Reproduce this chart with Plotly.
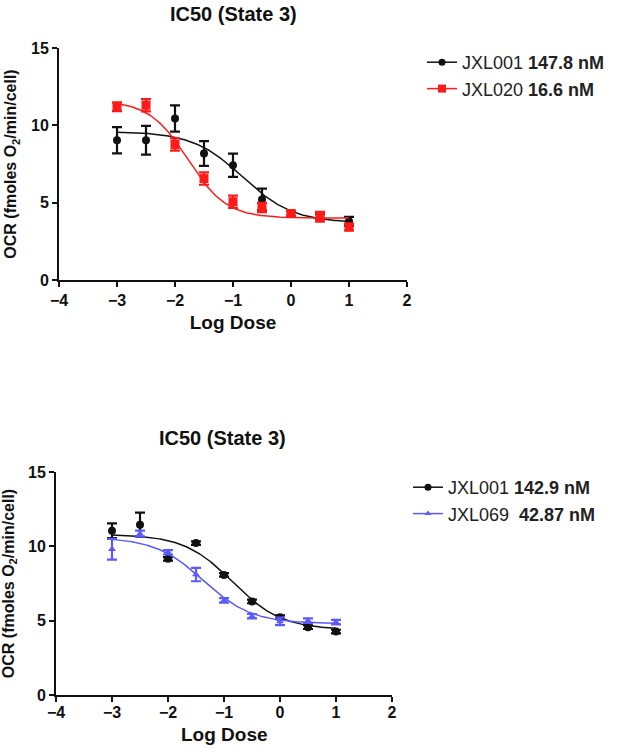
import numpy as np
import plotly.graph_objects as go

# log dose values shared by all series
log_dose = [-3, -2.5, -2, -1.5, -1, -0.5, 0, 0.5, 1]

# top panel: JXL001 vs JXL020
top_jxl001 = [9.04, 9.04, 10.44, 8.18, 7.42, 5.21, 4.3, 4.1, 3.8]
top_jxl001_err = [0.85, 0.93, 0.85, 0.8, 0.75, 0.7, 0.15, 0.15, 0.28]
top_jxl020 = [11.2, 11.3, 8.76, 6.56, 5.06, 4.69, 4.3, 4.09, 3.42]
top_jxl020_err = [0.28, 0.4, 0.4, 0.4, 0.4, 0.3, 0.16, 0.32, 0.22]

# bottom panel: JXL001 vs JXL069
bot_jxl001 = [11.05, 11.45, 9.16, 10.22, 8.08, 6.29, 5.23, 4.56, 4.27]
bot_jxl001_err = [0.5, 0.82, 0.12, 0.12, 0.12, 0.12, 0.12, 0.12, 0.12]
bot_jxl069 = [9.8, 10.85, 9.6, 8.1, 6.36, 5.3, 4.95, 5.0, 4.9]
bot_jxl069_err = [0.7, 0.2, 0.15, 0.45, 0.15, 0.15, 0.25, 0.15, 0.15]

# fitted 4PL parameters (top, bottom, logIC50, hill)
fit_top_001 = (9.6, 3.7, np.log10(0.1478), 1.0)
fit_top_020 = (11.6, 4.0, np.log10(0.0166), 1.3)
fit_bot_001 = (10.8, 4.4, np.log10(0.1429), 1.0)
fit_bot_069 = (10.6, 4.8, np.log10(0.04287), 1.0)

legend_top = ["JXL001 <b>147.8 nM</b>", "JXL020 <b>16.6 nM</b>"]
legend_bot = ["JXL001 <b>142.9 nM</b>", "JXL069  <b>42.87 nM</b>"]

BLACK = "#111111"
RED = "#ff1a1a"
BLUE = "#5a5aff"
FONT = "Liberation Sans, Arial, sans-serif"

# full window; the page body margin is removed after plotting
W, H = 619, 748


def px_x(p):
    return p / W


def px_y(p):
    return 1 - p / H


def four_pl(x, params):
    top, bottom, logic50, hill = params
    return bottom + (top - bottom) / (1 + 10 ** ((x - logic50) * hill))


xfit = np.linspace(-3, 1, 200)

fig = go.Figure()


def add_series(xa, ya, y, err, params, color, symbol, size, name, legend, group):
    fig.add_trace(go.Scatter(
        x=xfit, y=four_pl(xfit, params), mode="lines",
        line=dict(color=color, width=1.5), showlegend=False,
        xaxis=xa, yaxis=ya, hoverinfo="skip"
    ))
    fig.add_trace(go.Scatter(
        x=log_dose, y=y, mode="markers",
        marker=dict(color=color, symbol=symbol, size=size),
        error_y=dict(type="data", array=err, color=color, thickness=2.2, width=5),
        showlegend=False, xaxis=xa, yaxis=ya
    ))
    # legend entry
    fig.add_trace(go.Scatter(
        x=[None], y=[None], mode="lines+markers", name=name,
        line=dict(color=color, width=1.5),
        marker=dict(color=color, symbol=symbol, size=size - 1),
        legend=legend, legendgroup=group, xaxis=xa, yaxis=ya
    ))


add_series("x", "y", top_jxl001, top_jxl001_err, fit_top_001, BLACK, "circle", 8, legend_top[0], "legend", "a")
add_series("x", "y", top_jxl020, top_jxl020_err, fit_top_020, RED, "square", 9, legend_top[1], "legend", "b")
add_series("x2", "y2", bot_jxl001, bot_jxl001_err, fit_bot_001, BLACK, "circle", 8, legend_bot[0], "legend2", "c")
add_series("x2", "y2", bot_jxl069, bot_jxl069_err, fit_bot_069, BLUE, "triangle-up", 7, legend_bot[1], "legend2", "d")

axis_common = dict(
    showline=True, linecolor=BLACK, linewidth=2, showgrid=False, zeroline=False,
    ticks="outside", ticklen=5, tickwidth=2, tickcolor=BLACK, automargin=False,
    tickfont=dict(family=FONT, size=16, color=BLACK, weight="bold"),
)
xtitle_font = dict(family=FONT, size=19, color=BLACK, weight="bold")
ytitle = dict(text="OCR (fmoles O<sub>2</sub>/min/cell)",
              font=dict(family=FONT, size=16, color=BLACK, weight="bold"), standoff=10)

legend_font = dict(family=FONT, size=18, color="#222")

fig.update_layout(
    width=W, height=H,
    margin=dict(l=0, r=0, t=0, b=0),
    paper_bgcolor="white", plot_bgcolor="white",
    xaxis=dict(domain=[px_x(59), px_x(407)], range=[-4, 2], dtick=1, anchor="y",
               title=dict(text="Log Dose", font=xtitle_font, standoff=7), **axis_common),
    yaxis=dict(domain=[px_y(280), px_y(48)], range=[0, 15], dtick=5, anchor="x", title=ytitle, **axis_common),
    xaxis2=dict(domain=[px_x(56), px_x(392)], range=[-4, 2], dtick=1, anchor="y2",
                ticklabelstandoff=-3, **axis_common),
    yaxis2=dict(domain=[px_y(695), px_y(472)], range=[0, 15], dtick=5, anchor="x2", title=ytitle, **axis_common),
    legend=dict(x=px_x(422), y=px_y(44), xanchor="left", yanchor="top",
                font=legend_font, itemwidth=30, tracegroupgap=0, bgcolor="rgba(0,0,0,0)"),
    legend2=dict(x=px_x(408), y=px_y(469), xanchor="left", yanchor="top",
                 font=legend_font, itemwidth=30, tracegroupgap=0, bgcolor="rgba(0,0,0,0)"),
    annotations=[
        dict(text="<b>IC50 (State 3)</b>", x=px_x(233), y=px_y(14), xref="paper", yref="paper",
             yanchor="middle", showarrow=False, font=dict(family=FONT, size=20, color=BLACK)),
        dict(text="<b>IC50 (State 3)</b>", x=px_x(223), y=px_y(438), xref="paper", yref="paper",
             yanchor="middle", showarrow=False, font=dict(family=FONT, size=20, color=BLACK)),
        # bottom panel x title as annotation so it sits just under the tick labels
        dict(text="<b>Log Dose</b>", x=px_x(224), y=px_y(734), xref="paper", yref="paper",
             xanchor="center", yanchor="middle", showarrow=False,
             font=dict(family=FONT, size=19, color=BLACK)),
    ],
)

fig.write_html("out.html", config={"displayModeBar": False},
               post_script="document.body.style.margin = '0';")
